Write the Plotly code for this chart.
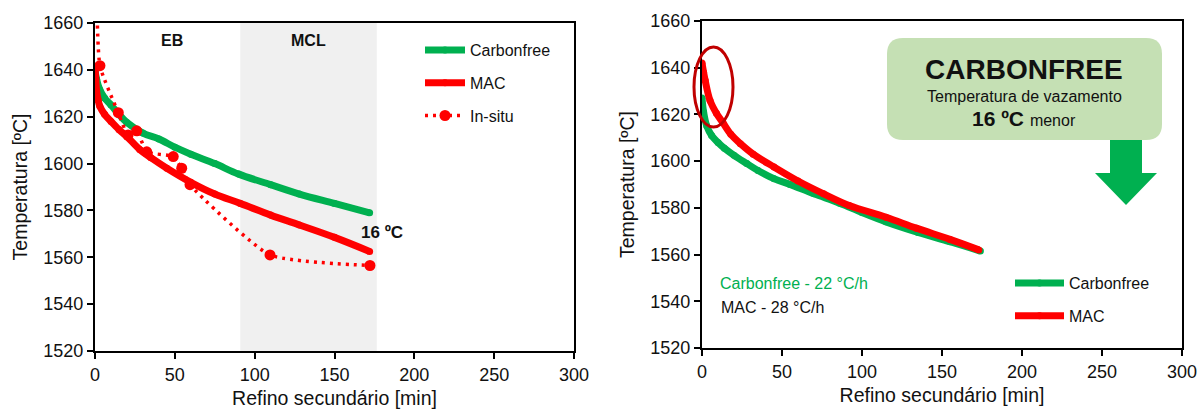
import plotly.graph_objects as go

# ---------------- DATA ----------------
# Left chart (Refino secundário, Carbonfree vs MAC vs In-situ)
time_cf_left = [0, 1, 3, 6, 10, 15, 20, 30, 40, 50, 60, 75, 90, 110, 128, 150, 172]
temp_cf_left = [1640, 1636, 1631.5, 1628, 1625, 1621, 1617.5, 1613, 1610.5, 1607, 1604,
                1600, 1595.5, 1591, 1587, 1583, 1579]

time_mac_left = [0, 0.5, 1, 2, 3, 6, 10, 15, 20, 28, 35, 45, 60, 75, 91, 110, 128, 150, 172]
temp_mac_left = [1641, 1636, 1631, 1627, 1624.5, 1621, 1618, 1614.5, 1611.5, 1606, 1602.5,
                 1598, 1592, 1587, 1583, 1578, 1573.8, 1568.5, 1562.5]

time_insitu = [0.8, 3.1, 14.6, 20.7, 26.1, 32.4, 49, 54.3, 59.5, 109.6, 172.2]
temp_insitu = [1700, 1641.8, 1621.7, 1612.2, 1614, 1605, 1603, 1598, 1591, 1561, 1556.5]

# Right chart (cooling rates)
time_cf_right = [0, 1, 3, 6, 10, 14, 20, 28, 35, 45, 55, 70, 86, 100, 115, 135, 155, 174]
temp_cf_right = [1627, 1621, 1615, 1611, 1608, 1605.5, 1602.5, 1599, 1596, 1592.5, 1590,
                 1586, 1582, 1578, 1574, 1569.5, 1565.5, 1561.5]

time_mac_right = [0, 1, 2, 5, 9, 13, 18, 24, 32, 45, 60, 76, 92, 115, 134, 155, 173]
temp_mac_right = [1642, 1638, 1634.5, 1626, 1620.5, 1616.5, 1611.5, 1607.5, 1603, 1597.5,
                  1591.5, 1586, 1581, 1576, 1571.3, 1566.5, 1562]

mcl_window = [91, 176.5]          # shaded MCL stage (min)
x_ticks = [0, 50, 100, 150, 200, 250, 300]
y_ticks = [1520, 1540, 1560, 1580, 1600, 1620, 1640, 1660]

# ---------------- STYLE ----------------
W, H = 1204, 409
ML, MR, MT, MB = 95, 22, 21, 58
PW, PH = W - ML - MR, H - MT - MB
GREEN = "#00b050"
RED = "#ff0000"
FONT = "Arial, Liberation Sans, sans-serif"
TXT = "#111111"


def px(x):
    """figure pixel x -> paper fraction"""
    return (x - ML) / PW


def py(y):
    """figure pixel y (from top) -> paper fraction"""
    return (H - MB - y) / PH


fig = go.Figure()

line_kw = dict(width=7, shape="spline", smoothing=1.0)

fig.add_trace(go.Scatter(x=time_cf_left, y=temp_cf_left, name="Carbonfree",
                         mode="lines+markers", line=dict(color=GREEN, **line_kw),
                         marker=dict(color=GREEN, size=7), xaxis="x", yaxis="y",
                         legend="legend", legendgroup="a"))
fig.add_trace(go.Scatter(x=time_mac_left, y=temp_mac_left, name="MAC",
                         mode="lines+markers", line=dict(color=RED, **line_kw),
                         marker=dict(color=RED, size=7), xaxis="x", yaxis="y",
                         legend="legend", legendgroup="b"))
fig.add_trace(go.Scatter(x=time_insitu, y=temp_insitu, name="In-situ",
                         mode="lines+markers",
                         line=dict(color=RED, width=3.5, dash="3px,5px", shape="spline", smoothing=0.5),
                         marker=dict(color=RED, size=11), xaxis="x", yaxis="y",
                         legend="legend", legendgroup="c"))

fig.add_trace(go.Scatter(x=time_cf_right, y=temp_cf_right, name="Carbonfree",
                         mode="lines+markers", line=dict(color=GREEN, **line_kw),
                         marker=dict(color=GREEN, size=7), xaxis="x2", yaxis="y2",
                         legend="legend2", legendgroup="d"))
fig.add_trace(go.Scatter(x=time_mac_right, y=temp_mac_right, name="MAC",
                         mode="lines+markers", line=dict(color=RED, **line_kw),
                         marker=dict(color=RED, size=7), xaxis="x2", yaxis="y2",
                         legend="legend2", legendgroup="e"))

axis_common = dict(showline=True, linecolor="black", linewidth=2.2, mirror=True,
                   ticks="outside", ticklen=6, tickwidth=1.5, tickcolor="black",
                   showgrid=False, zeroline=False, automargin=False,
                   tickfont=dict(family=FONT, size=18, color=TXT))

xaxis_common = dict(axis_common, range=[0, 300], tickvals=x_ticks,
                    title=dict(text="Refino secundário [min]",
                               font=dict(family=FONT, size=19.5, color=TXT), standoff=8))
yaxis_common = dict(axis_common, range=[1520, 1660], tickvals=y_ticks,
                    title=dict(text="Temperatura [ºC]",
                               font=dict(family=FONT, size=19.5, color=TXT), standoff=10))

fig.update_layout(
    width=W, height=H,
    margin=dict(l=ML, r=MR, t=MT, b=MB, autoexpand=False),
    paper_bgcolor="white", plot_bgcolor="rgba(0,0,0,0)",
    font=dict(family=FONT, color=TXT),
    xaxis=dict(xaxis_common, domain=[px(95), px(574)], anchor="y"),
    yaxis=dict(yaxis_common, domain=[py(351), py(23)], anchor="x"),
    xaxis2=dict(xaxis_common, domain=[px(702), px(1182)], anchor="y2"),
    yaxis2=dict(yaxis_common, domain=[py(348), py(21)], anchor="x2"),
    legend=dict(x=px(420), y=py(33), xanchor="left", yanchor="top",
                font=dict(family=FONT, size=16, color=TXT),
                bgcolor="rgba(0,0,0,0)", tracegroupgap=9, traceorder="grouped",
                itemwidth=40),
    legend2=dict(x=px(1010), y=py(266), xanchor="left", yanchor="top",
                 font=dict(family=FONT, size=16, color=TXT),
                 bgcolor="rgba(0,0,0,0)", tracegroupgap=9, traceorder="grouped",
                 itemwidth=49),
)

# MCL shaded area
fig.add_shape(type="rect", xref="x", yref="y domain", x0=mcl_window[0], x1=mcl_window[1],
              y0=0, y1=1, fillcolor="#f0f0f0", line=dict(width=0), layer="below")

# Rounded green box (right)
bx0, bx1, by0, by1, r = 887, 1162, 38, 140, 16
path = (f"M {px(bx0 + r)},{py(by0)} L {px(bx1 - r)},{py(by0)} "
        f"Q {px(bx1)},{py(by0)} {px(bx1)},{py(by0 + r)} "
        f"L {px(bx1)},{py(by1 - r)} Q {px(bx1)},{py(by1)} {px(bx1 - r)},{py(by1)} "
        f"L {px(bx0 + r)},{py(by1)} Q {px(bx0)},{py(by1)} {px(bx0)},{py(by1 - r)} "
        f"L {px(bx0)},{py(by0 + r)} Q {px(bx0)},{py(by0)} {px(bx0 + r)},{py(by0)} Z")
fig.add_shape(type="path", xref="paper", yref="paper", path=path,
              fillcolor="#c5e0b4", line=dict(width=0), layer="above")

# Green down arrow
pts = [(1110, 140), (1142, 140), (1142, 173), (1157, 173), (1126, 205), (1095, 173), (1110, 173)]
apath = "M " + " L ".join(f"{px(a)},{py(b)}" for a, b in pts) + " Z"
fig.add_shape(type="path", xref="paper", yref="paper", path=apath,
              fillcolor=GREEN, line=dict(width=0), layer="above")

# Dark red ellipse
fig.add_shape(type="circle", xref="paper", yref="paper",
              x0=px(694), x1=px(733), y0=py(127), y1=py(47),
              line=dict(color="#c00000", width=3), fillcolor="rgba(0,0,0,0)", layer="above")


def note(x, y, text, size, color=TXT, xanchor="center", xref="paper", yref="paper"):
    return dict(x=x, y=y, xref=xref, yref=yref, text=text, showarrow=False,
                xanchor=xanchor, yanchor="middle",
                font=dict(family=FONT, size=size, color=color))


ann = [
    note(48, 1652.5, "<b>EB</b>", 16, xref="x", yref="y"),
    note(133.4, 1652.5, "<b>MCL</b>", 16, xref="x", yref="y"),
    note(179.5, 1570.4, "<b>16 ºC</b>", 17, xref="x", yref="y"),
    note(px(1023.5), py(69), "<b>CARBONFREE</b>", 28),
    note(px(1024), py(96), "Temperatura de vazamento", 16),
    note(px(1024), py(118), "<b>16 ºC</b> <span style='font-size:16px'>menor</span>", 21),
    note(px(718), py(283), "Carbonfree - 22 °C/h", 16, color=GREEN, xanchor="left"),
    note(px(719), py(307), "MAC - 28 °C/h", 16, xanchor="left"),
]
fig.update_layout(annotations=ann)

fig.write_html("out.html", config={"displayModeBar": False},
               post_script="document.body.style.margin='0';document.body.style.overflow='hidden';")
